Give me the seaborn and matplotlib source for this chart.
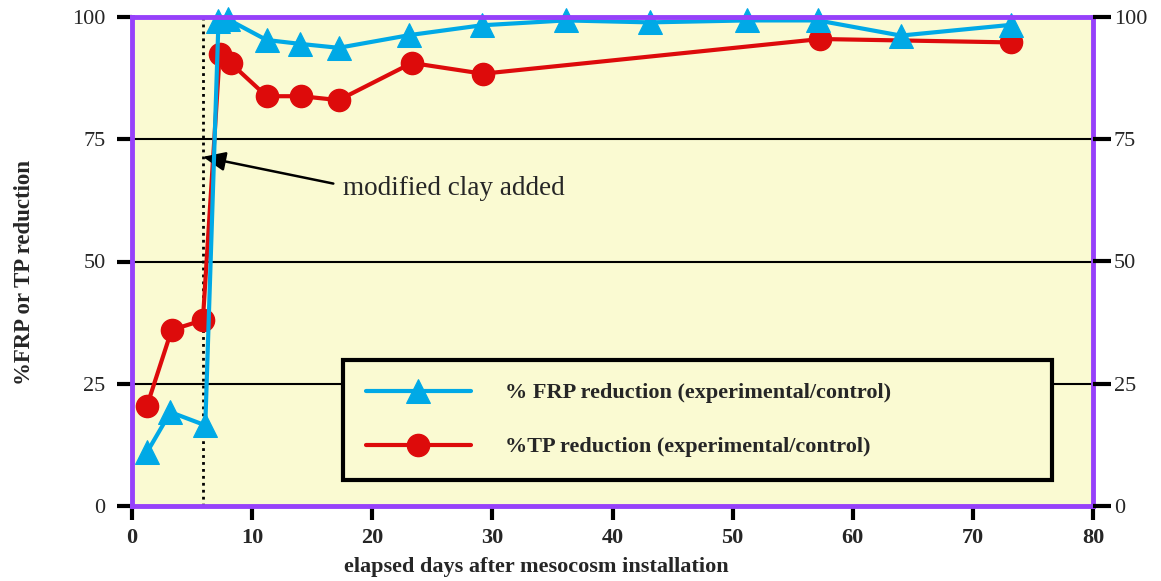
import matplotlib
matplotlib.use("Agg")
import matplotlib.pyplot as plt
import seaborn as sns
import pandas as pd

# ---- data ----
frp_days = [1.25, 3.2, 6.1, 7.2, 8.0, 11.2, 14.0, 17.2, 23.1, 29.1, 36.1, 43.1, 51.2, 57.1, 64.0, 73.2]
frp_values = [11.0, 19.2, 16.5, 99.2, 99.5, 95.3, 94.5, 93.7, 96.3, 98.3, 99.3, 98.9, 99.3, 99.3, 96.2, 98.4]
tp_days = [1.25, 3.3, 5.9, 7.3, 8.2, 11.2, 14.1, 17.2, 23.3, 29.2, 57.3, 73.2]
tp_values = [20.5, 36.0, 38.0, 92.4, 90.6, 83.8, 83.8, 83.0, 90.6, 88.4, 95.5, 94.8]
frp_label = "% FRP reduction (experimental/control)"
tp_label = "%TP reduction (experimental/control)"
x_ticks = [0, 10, 20, 30, 40, 50, 60, 70, 80]
y_ticks = [0, 25, 50, 75, 100]
clay_day = 5.9
annot_text = "modified clay added"
x_label = "elapsed days after mesocosm installation"
y_label = "%FRP or TP reduction"

frp_df = pd.DataFrame({"day": frp_days, "value": frp_values})
tp_df = pd.DataFrame({"day": tp_days, "value": tp_values})

sns.set_theme(style="white")
plt.rcParams["font.family"] = ["Liberation Serif", "DejaVu Serif"]

CYAN = "#00A9E6"
RED = "#DD0B0B"
PURPLE = "#9641FA"
BG = "#FAFAD2"

fig = plt.figure(figsize=(11.61, 5.81), dpi=100)
ax = fig.add_axes([132 / 1161, 75 / 581, 961 / 1161, 489 / 581])
ax.set_facecolor(BG)

# grid lines at 25/50/75
for yv in [25, 50, 75]:
    ax.axhline(yv, color="black", lw=1.5, zorder=1)

ax.plot([clay_day, clay_day], [0, 100], color="black", lw=2, ls=(0, (1, 1.5)), zorder=2)

sns.lineplot(data=tp_df, x="day", y="value", ax=ax, color=RED, lw=3,
             marker="o", markersize=16, markeredgecolor=RED, markeredgewidth=1,
             label=tp_label, zorder=3, legend=False)
sns.lineplot(data=frp_df, x="day", y="value", ax=ax, color=CYAN, lw=3,
             marker="^", markersize=17, markeredgecolor=CYAN,
             label=frp_label, zorder=4, legend=False)
for ln in ax.lines:
    ln.set_clip_on(False)

ax.set_xlim(0, 80)
ax.set_ylim(0, 100)
ax.set_xticks(x_ticks)
ax.set_yticks(y_ticks)
ax.set_xticklabels([str(t) for t in x_ticks], fontsize=16, fontweight="bold")
ax.set_yticklabels([str(t) for t in y_ticks], fontsize=16)
ax.tick_params(axis="y", left=True, right=False, labelleft=True, labelright=False,
               length=11, width=3, color="black", direction="out", pad=8)
ax.tick_params(axis="x", bottom=True, length=10, width=3, color="black",
               direction="out", pad=6)

ax2 = ax.twinx()
ax2.set_ylim(0, 100)
ax2.set_yticks(y_ticks)
ax2.set_yticklabels([str(t) for t in y_ticks], fontsize=16)
ax2.tick_params(axis="y", right=True, length=13, width=3, color="black",
                direction="out", pad=2)
ax2.grid(False)
for s in ax2.spines.values():
    s.set_visible(False)

for s in ax.spines.values():
    s.set_color(PURPLE)
    s.set_linewidth(3.5)
    s.set_visible(True)
    s.set_zorder(5)

ax.set_xlabel(x_label, fontsize=16, fontweight="bold")
ax.xaxis.set_label_coords(0.421, -0.105)
ax.set_ylabel(y_label, fontsize=16.5, fontweight="bold")
ax.yaxis.set_label_coords(-0.101, 0.478)

ax.annotate(annot_text, xy=(clay_day, 71.4), xytext=(17.6, 65.0),
            fontsize=19.5, va="center", ha="left",
            arrowprops=dict(arrowstyle="-|>,head_length=0.7,head_width=0.3", color="black", lw=1.8,
                            relpos=(0, 0.6), shrinkA=5, shrinkB=0))

frp_line = ax.lines[-1]
tp_line = ax.lines[-2]
leg = ax.legend([frp_line, tp_line], [frp_label, tp_label],
                loc="upper left", bbox_to_anchor=(0.2196, 0.0532, 0.738, 0.2454),
                mode="expand", borderaxespad=0,
                prop={"weight": "bold", "size": 16},
                handlelength=4.73, handletextpad=1.55, labelspacing=1.5,
                borderpad=1.03, fancybox=False, framealpha=1, facecolor=BG,
                edgecolor="black")
leg.get_frame().set_linewidth(3)
leg.set_zorder(6)

fig.savefig("out.png", dpi=100)
